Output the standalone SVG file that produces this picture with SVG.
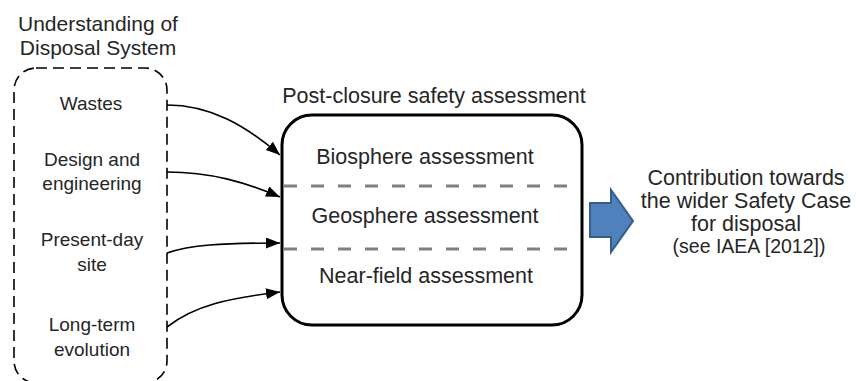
<svg xmlns="http://www.w3.org/2000/svg" width="856" height="381" viewBox="0 0 856 381">
<style>
text{font-family:"Liberation Sans",Arial,sans-serif;fill:#262626;}
.t{font-size:21.5px;text-anchor:middle;}
.n{font-size:19px;text-anchor:middle;}
.conn{fill:none;stroke:#000;stroke-width:1.6;marker-end:url(#ah);}
.sep{stroke:#808080;stroke-width:3;stroke-dasharray:13 14;}
</style>
<defs>
<marker id="ah" markerUnits="userSpaceOnUse" markerWidth="16" markerHeight="12" refX="14" refY="5.5" orient="auto">
<path d="M0,0 L14,5.5 L0,11 Z" fill="#000"/>
</marker>
</defs>
<rect width="856" height="381" fill="#fff"/>
<g id="understanding">
<text x="98" y="31" class="t" style="font-size:21px">Understanding of</text>
<text x="98" y="55" class="t" style="font-size:21px">Disposal System</text>
<rect x="14" y="68" width="153" height="315" rx="22" fill="none" stroke="#000" stroke-width="1.6" stroke-dasharray="11 6"/>
</g>
<g id="wastes"><text x="91" y="110" class="n">Wastes</text></g>
<g id="design"><text x="92" y="166" class="n">Design and</text><text x="92" y="190" class="n">engineering</text></g>
<g id="present"><text x="92" y="246" class="n">Present-day</text><text x="92" y="271" class="n">site</text></g>
<g id="longterm"><text x="92" y="331" class="n">Long-term</text><text x="92" y="356" class="n">evolution</text></g>
<g id="assessment">
<text x="434" y="103" class="t">Post-closure safety assessment</text>
<rect x="282" y="115" width="300" height="210" rx="30" fill="#fff" stroke="#000" stroke-width="3"/>
<line x1="284" y1="186" x2="580" y2="186" class="sep"/>
<line x1="284" y1="249" x2="580" y2="249" class="sep"/>
<text x="425" y="164" class="t">Biosphere assessment</text>
<text x="425" y="223" class="t">Geosphere assessment</text>
<text x="426" y="283" class="t">Near-field assessment</text>
</g>
<g id="contribution">
<path d="M590,203 L611,203 L611,190 L633,221 L611,252 L611,237 L590,237 Z" fill="#4f81bd" stroke="#385d8a" stroke-width="2"/>
<text x="746" y="185" class="t">Contribution towards</text>
<text x="746" y="208" class="t">the wider Safety Case</text>
<text x="746" y="231" class="t">for disposal</text>
<text x="749" y="253" class="t" style="font-size:19.5px">(see IAEA [2012])</text>
</g>
<g id="connectors">
<path class="conn" d="M167,105 C210,105 245,125 280,155"/>
<path class="conn" d="M167,172 C210,172 245,182 280,197"/>
<path class="conn" d="M167,253 C190,245 220,243 280,243"/>
<path class="conn" d="M167,327 C195,305 230,298 280,292"/>
</g>
</svg>
